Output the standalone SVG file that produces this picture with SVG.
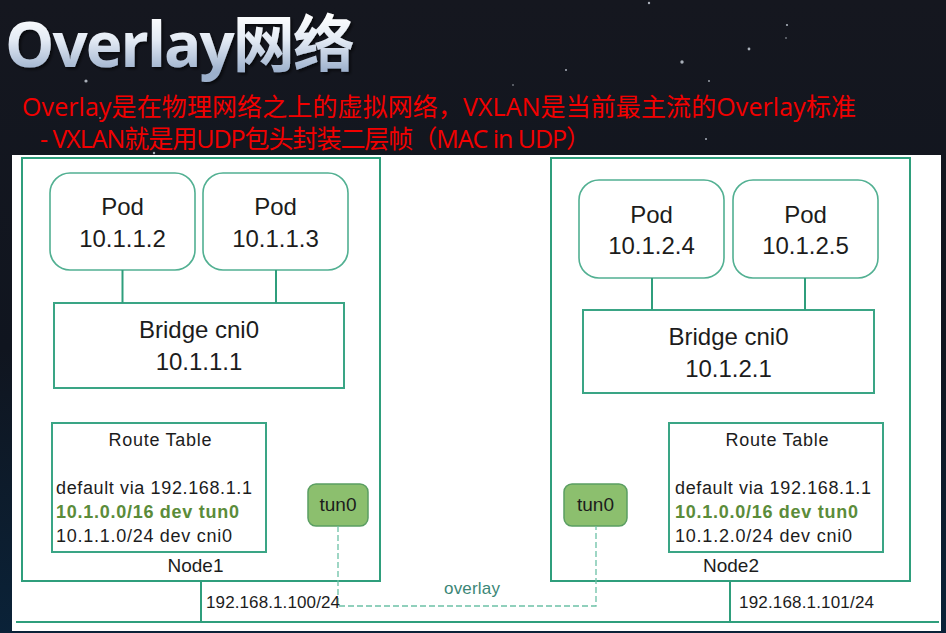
<svg xmlns="http://www.w3.org/2000/svg" width="946" height="633" viewBox="0 0 946 633">
  <defs>
    <linearGradient id="bg" x1="0" y1="0" x2="0" y2="1">
      <stop offset="0" stop-color="#15171f"/>
      <stop offset="0.55" stop-color="#10151f"/>
      <stop offset="1" stop-color="#0a2238"/>
    </linearGradient>
    <linearGradient id="titleFill" gradientUnits="userSpaceOnUse" x1="0" y1="14" x2="0" y2="72">
      <stop offset="0" stop-color="#ffffff"/>
      <stop offset="0.45" stop-color="#e3eaf4"/>
      <stop offset="1" stop-color="#9cb0cc"/>
    </linearGradient>
    <filter id="titleShadow" filterUnits="userSpaceOnUse" x="0" y="2" width="380" height="86">
      <feDropShadow dx="2" dy="2" stdDeviation="1.5" flood-color="#000" flood-opacity="0.6"/>
    </filter>
    <style>
      .frame{fill:#fff;stroke:#2f9e7c;stroke-width:2}
      .pod{fill:#fff;stroke:#52b092;stroke-width:1.6}
      .box{fill:#fff;stroke:#3aa585;stroke-width:2}
      .link{fill:none;stroke:#2f9e7c;stroke-width:2}
      .tunnel{fill:none;stroke:#6cc1a6;stroke-width:1.3;stroke-dasharray:6 3}
      .tun{fill:#8cbf6e;stroke:#5a9e62;stroke-width:1.5}
      .lbl{font-family:"Liberation Sans",Arial,sans-serif;fill:#1c1c1c}
      .big{font-size:24px;text-anchor:middle}
      .mid{font-size:19px;text-anchor:middle}
      .rt{font-size:18px}
      .hl{font-weight:bold;fill:#5b8c3a}
      .addr{font-size:17px}
      .ov{font-size:17px;fill:#3b8676}
      .head{font-family:"Open Sans","Noto Sans CJK SC",sans-serif;font-size:25px;fill:#f20000}
      .star{fill:#cfd6e0}
    </style>
  </defs>

  <!-- backdrop -->
  <rect x="0" y="0" width="946" height="633" fill="url(#bg)"/>
  <g opacity="0.8">
    <circle class="star" cx="86" cy="81" r="1.6"/>
    <circle class="star" cx="154" cy="153" r="1.2"/>
    <circle class="star" cx="100" cy="118" r="0.8"/>
    <circle class="star" cx="649" cy="3" r="1.2"/>
    <circle class="star" cx="566" cy="70" r="1"/>
    <circle class="star" cx="682" cy="62" r="1.7"/>
    <circle class="star" cx="749" cy="49" r="1.4"/>
    <circle class="star" cx="787" cy="25" r="1.1"/>
    <circle class="star" cx="786" cy="38" r="0.8"/>
    <circle class="star" cx="709" cy="81" r="0.9"/>
    <circle class="star" cx="706" cy="139" r="1"/>
    <circle class="star" cx="513" cy="85" r="0.8"/>
  </g>

  <!-- heading -->
  <text x="5" y="67" font-family="Open Sans,'Noto Sans CJK SC',sans-serif" font-size="62" font-weight="bold" fill="url(#titleFill)" filter="url(#titleShadow)" textLength="350">Overlay网络</text>
  <text class="head" x="22" y="116" textLength="834">Overlay是在物理网络之上的虚拟网络，VXLAN是当前最主流的Overlay标准</text>
  <text class="head" x="40" y="148" textLength="551">- VXLAN就是用UDP包头封装二层帧（MAC in UDP）</text>

  <!-- drawing sheet -->
  <rect x="12" y="155" width="929" height="476" fill="#fff"/>

  <!-- Node1 -->
  <g id="node1">
    <rect class="frame" x="22" y="158" width="358" height="423"/>
    <text class="lbl mid" x="195.5" y="572">Node1</text>
  </g>
  <g id="pod-10-1-1-2">
    <rect class="pod" x="50" y="173" width="145" height="97" rx="20"/>
    <text class="lbl big" x="122.5" y="215">Pod</text>
    <text class="lbl big" x="122.5" y="247">10.1.1.2</text>
  </g>
  <g id="pod-10-1-1-3">
    <rect class="pod" x="203" y="173" width="145" height="97" rx="20"/>
    <text class="lbl big" x="275.5" y="215">Pod</text>
    <text class="lbl big" x="275.5" y="247">10.1.1.3</text>
  </g>
  <g id="bridge1">
    <rect class="box" x="54" y="303" width="290" height="85"/>
    <text class="lbl big" x="199" y="338">Bridge cni0</text>
    <text class="lbl big" x="199" y="370">10.1.1.1</text>
  </g>
  <g id="route1">
    <rect class="box" x="52" y="423" width="214" height="129"/>
    <text class="lbl rt" x="160" y="446" text-anchor="middle" textLength="103">Route Table</text>
    <text class="lbl rt" x="56" y="494" textLength="196">default via 192.168.1.1</text>
    <text class="lbl rt hl" x="56" y="518" textLength="183">10.1.0.0/16 dev tun0</text>
    <text class="lbl rt" x="56" y="542" textLength="176">10.1.1.0/24 dev cni0</text>
  </g>
  <g id="tun0-node1">
    <rect class="tun" x="308" y="484" width="60" height="42" rx="8"/>
    <text class="lbl mid" x="338" y="511">tun0</text>
  </g>

  <!-- Node2 -->
  <g id="node2">
    <rect class="frame" x="551" y="158" width="359" height="423"/>
    <text class="lbl mid" x="731" y="572">Node2</text>
  </g>
  <g id="pod-10-1-2-4">
    <rect class="pod" x="579" y="180" width="145" height="98" rx="20"/>
    <text class="lbl big" x="651.5" y="223">Pod</text>
    <text class="lbl big" x="651.5" y="254">10.1.2.4</text>
  </g>
  <g id="pod-10-1-2-5">
    <rect class="pod" x="733" y="180" width="145" height="98" rx="20"/>
    <text class="lbl big" x="805.5" y="223">Pod</text>
    <text class="lbl big" x="805.5" y="254">10.1.2.5</text>
  </g>
  <g id="bridge2">
    <rect class="box" x="583" y="310" width="291" height="83"/>
    <text class="lbl big" x="728.5" y="345">Bridge cni0</text>
    <text class="lbl big" x="728.5" y="377">10.1.2.1</text>
  </g>
  <g id="route2">
    <rect class="box" x="669" y="423" width="214" height="129"/>
    <text class="lbl rt" x="777" y="446" text-anchor="middle" textLength="103">Route Table</text>
    <text class="lbl rt" x="675" y="494" textLength="196">default via 192.168.1.1</text>
    <text class="lbl rt hl" x="675" y="518" textLength="183">10.1.0.0/16 dev tun0</text>
    <text class="lbl rt" x="675" y="542" textLength="177">10.1.2.0/24 dev cni0</text>
  </g>
  <g id="tun0-node2">
    <rect class="tun" x="564" y="484" width="63" height="42" rx="8"/>
    <text class="lbl mid" x="595.5" y="511">tun0</text>
  </g>

  <!-- connectors -->
  <g id="connectors">
    <line class="link" x1="122.5" y1="270" x2="122.5" y2="303"/>
    <line class="link" x1="276" y1="270" x2="276" y2="303"/>
    <line class="link" x1="652" y1="278" x2="652" y2="310"/>
    <line class="link" x1="805" y1="278" x2="805" y2="310"/>
    <line class="link" x1="201" y1="581" x2="201" y2="622"/>
    <line class="link" x1="730" y1="581" x2="730" y2="622"/>
    <line class="link" x1="16" y1="622" x2="939" y2="622"/>
    <path class="tunnel" d="M338,526 V606 H596 V526"/>
    <text class="lbl addr" x="206" y="608" textLength="134">192.168.1.100/24</text>
    <text class="lbl addr" x="739" y="608" textLength="135">192.168.1.101/24</text>
    <text class="lbl ov" x="444" y="594" textLength="56">overlay</text>
  </g>
</svg>
